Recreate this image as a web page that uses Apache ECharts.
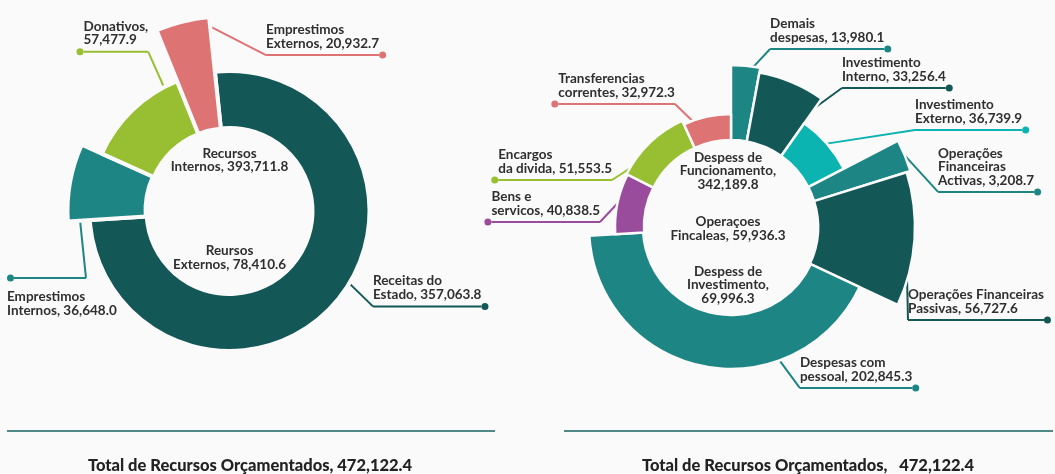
<!DOCTYPE html>
<html>
<head>
<meta charset="utf-8">
<script src="https://cdn.jsdelivr.net/npm/echarts@6/dist/echarts.min.js"></script>
<style>
  html, body { margin: 0; padding: 0; background: #fafafa; }
  #chart { width: 1055px; height: 474px; }
</style>
</head>
<body>
<div id="chart"></div>
<script>
// ---------------- data ----------------
const incomeNames = ['Receitas do\nEstado', 'Emprestimos\nInternos', 'Donativos', 'Emprestimos\nExternos'];
const incomeValues = [357063.8, 36648.0, 57477.9, 20932.7];
const incomeSep = [', ', ', ', ',\n', ', '];
const incomeGroupNames = ['Recursos\nInternos', 'Reursos\nExternos'];
const incomeGroupValues = [393711.8, 78410.6];

const expenseNames = ['Demais\ndespesas', 'Investimento\nInterno', 'Investimento\nExterno',
  'Operações\nFinanceiras\nActivas', 'Operações Financeiras\nPassivas', 'Despesas com\npessoal',
  'Bens e\nservicos', 'Encargos\nda divida', 'Transferencias\ncorrentes'];
const expenseValues = [13980.1, 33256.4, 36739.9, 3208.7, 56727.6, 202845.3, 40838.5, 51553.5, 32972.3];
const expenseGroupNames = ['Despess de\nFuncionamento', 'Operaçoes\nFincaleas', 'Despess de\nInvestimento'];
const expenseGroupValues = [342189.8, 59936.3, 69996.3];
const expenseGroupSep = [',\n', ', ', ',\n'];

const totalTitle = 'Total de Recursos Orçamentados';
const totalBudget = 472122.4;

// ---------------- styles / layout ----------------
const BG = '#fafafa';
const TXT = '#2f2f2f';
const FONT = 'Lato, "Open Sans", sans-serif';
const FS = 13.5;
const DOT = 7;
const COL = { dark: '#135756', teal: '#1d8684', green: '#97bf31', salmon: '#de7374', cyan: '#0bb4b0', purple: '#9a4c9c' };

const incomeColors = [COL.dark, COL.teal, COL.green, COL.salmon];
const incomeRadii = [[83, 140], [84, 162], [83, 140], [83, 195]];
const expenseColors = [COL.teal, COL.dark, COL.cyan, COL.teal, COL.dark, COL.teal, COL.purple, COL.green, COL.salmon];
const expenseRadii = [[87, 162], [87, 157], [87, 127], [87, 188], [87, 184], [88, 142], [87, 116], [87, 117], [87, 113]];

const INC = { cx: 229.5, cy: 211, startAngle: 96, border: 4, minAngle: 0 };
const EXP = { cx: 731, cy: 227, startAngle: 90, border: 2.5, minAngle: 10 };

// label anchor: da = degrees from slice mid-angle, r = anchor radius, off = elbow offset
const incomeLabelLayout = [
  { da: -9, r: 140, off: [23.6, 23], side: 'right', place: 'above' },
  { da: -12.2, r: 150, off: [6.4, 61.8], side: 'left', place: 'below', lineLen: 72 },
  { da: 16, r: 140, off: [-15.8, -35.4], side: 'left', place: 'above' },
  { da: 6, r: 190, off: [62.9, 32.2], side: 'right', place: 'above' }
];
const expenseLabelLayout = [
  { da: 2.8, r: 162, off: [16.5, -17.6], side: 'right', place: 'above' },
  { da: 12.15, r: 145, off: [27.8, -20.2], side: 'right', place: 'above' },
  { da: 0, r: 127, off: [88.2, -13.7], side: 'right', place: 'above' },
  { da: 0, r: 188, off: [33.1, 36.3], side: 'right', place: 'above' },
  { da: 13, r: 184, off: [0.9, 39.7], side: 'right', place: 'above' },
  { da: -30.7, r: 142, off: [20.4, 27.6], side: 'right', place: 'above' },
  { da: 0, r: 116, off: [-17.4, 18.5], side: 'left', place: 'above' },
  { da: -16.15, r: 117, off: [-17.7, 11.5], side: 'left', place: 'above' },
  { da: -7.7, r: 113, off: [-17.4, -16.8], side: 'left', place: 'above' }
];

const fmt = v => v.toLocaleString('en-US', { minimumFractionDigits: 1, maximumFractionDigits: 1 });

function richLabel(text, spec) {
  const rows = text.split('\n').map(l => '{t|' + l + '}').join('\n');
  if (spec.place === 'below') {
    const ul = spec.lineLen ? '{d|}{uf|}' : (spec.side === 'right' ? '{u|}{d|}' : '{d|}{u|}');
    return ul + '\n' + rows;
  }
  const ul = spec.side === 'right' ? '{u|}{d|}' : '{d|}{u|}';
  return rows + '\n' + ul;
}

const layoutCache = {};
function makeLabelLayout(cfg, spec, key) {
  return function (params) {
    let res = layoutCache[key];
    if (!res) {
      const pts = params.labelLinePoints;
      if (!pts || !pts.length) return {};
      const p0 = pts[0];
      const aMid = Math.atan2(p0[1] - cfg.cy, p0[0] - cfg.cx);
      const a = aMid + spec.da * Math.PI / 180;
      const ax = cfg.cx + spec.r * Math.cos(a), ay = cfg.cy + spec.r * Math.sin(a);
      const ex = ax + spec.off[0], ey = ay + spec.off[1];
      let x, align;
      if (spec.side === 'right') { x = ex; align = 'left'; }
      else if (spec.lineLen) { x = ex - spec.lineLen - DOT; align = 'left'; }
      else { x = ex; align = 'right'; }
      const below = spec.place === 'below';
      res = { x: x, y: below ? ey - 12 : ey + 5, align: align,
              verticalAlign: below ? 'top' : 'bottom', pts: [ax, ay, ex, ey] };
      layoutCache[key] = res;
    }
    const p = res.pts;
    return { x: res.x, y: res.y, align: res.align, verticalAlign: res.verticalAlign,
             labelLinePoints: [[p[0], p[1]], [p[2], p[3]]] };
  };
}

function buildSeries(prefix, cfg, names, values, seps, colors, radii, specs) {
  return values.map((_, i) => {
    const spec = specs[i];
    const color = colors[i];
    const below = spec.place === 'below';
    const labelText = richLabel(names[i] + seps[i] + fmt(values[i]), spec);
    return {
      type: 'pie',
      name: prefix + i,
      center: [cfg.cx, cfg.cy],
      radius: radii[i],
      startAngle: cfg.startAngle,
      clockwise: true,
      minAngle: cfg.minAngle,
      avoidLabelOverlap: false,
      silent: true,
      animation: false,
      emphasis: { disabled: true },
      labelLayout: makeLabelLayout(cfg, spec, prefix + i),
      label: {
        show: true,
        position: 'outside',
        formatter: () => labelText,
        rich: {
          t: { fontFamily: FONT, fontSize: FS, fontWeight: 'bold', color: TXT, lineHeight: 13.5, align: 'left' },
          u: { width: '100%', height: 2, backgroundColor: color, lineHeight: below ? 24 : 10 },
          uf: { width: spec.lineLen || 0, height: 2, backgroundColor: color, lineHeight: 24 },
          d: { width: DOT, height: DOT, borderRadius: DOT / 2, backgroundColor: color, lineHeight: below ? 24 : 10 }
        }
      },
      labelLine: { show: true, length: 10, length2: 10, smooth: false, lineStyle: { color: color, width: 2 } },
      data: values.map((v, j) => ({
        name: names[j].replace(/\n/g, ' '),
        value: v,
        itemStyle: j === i
          ? { color: color, borderColor: BG, borderWidth: cfg.border }
          : { color: 'rgba(0,0,0,0)', borderWidth: 0 },
        label: { show: j === i },
        labelLine: { show: j === i }
      }))
    };
  });
}

const series = [].concat(
  buildSeries('inc', INC, incomeNames, incomeValues, incomeSep, incomeColors, incomeRadii, incomeLabelLayout),
  buildSeries('exp', EXP, expenseNames, expenseValues, expenseNames.map(() => ', '), expenseColors, expenseRadii, expenseLabelLayout)
);

function centerText(x, y, text) {
  return { type: 'text', x: x, y: y, silent: true,
    style: { text: text, fill: TXT, fontFamily: FONT, fontSize: FS, fontWeight: 'bold',
             lineHeight: 13.5, align: 'center', verticalAlign: 'middle' } };
}
const incomeGroupY = [160, 257.5];
const expenseGroupY = [171, 228.5, 285];

const graphic = [];
incomeGroupNames.forEach((n, i) => graphic.push(centerText(INC.cx, incomeGroupY[i], n + ', ' + fmt(incomeGroupValues[i]))));
expenseGroupNames.forEach((n, i) => graphic.push(centerText(EXP.cx - 3, expenseGroupY[i], n + expenseGroupSep[i] + fmt(expenseGroupValues[i]))));

const lineColor = '#4f8a89';
graphic.push({ type: 'line', silent: true, shape: { x1: 7, y1: 431, x2: 495, y2: 431 }, style: { stroke: lineColor, lineWidth: 2 } });
graphic.push({ type: 'line', silent: true, shape: { x1: 564, y1: 431, x2: 1053, y2: 431 }, style: { stroke: lineColor, lineWidth: 2 } });
function totalText(x, text) {
  return { type: 'text', x: x, y: 466, silent: true,
    style: { text: text, fill: '#222222', fontFamily: FONT, fontSize: 16.5, fontWeight: 900,
             align: 'center', verticalAlign: 'middle' } };
}
graphic.push(totalText(250, totalTitle + ', ' + fmt(totalBudget)));
graphic.push(totalText(808, totalTitle + ',   ' + fmt(totalBudget)));

const chart = echarts.init(document.getElementById('chart'), null, { renderer: 'canvas' });
chart.setOption({
  backgroundColor: BG,
  animation: false,
  series: series,
  graphic: graphic
});
</script>
</body>
</html>
